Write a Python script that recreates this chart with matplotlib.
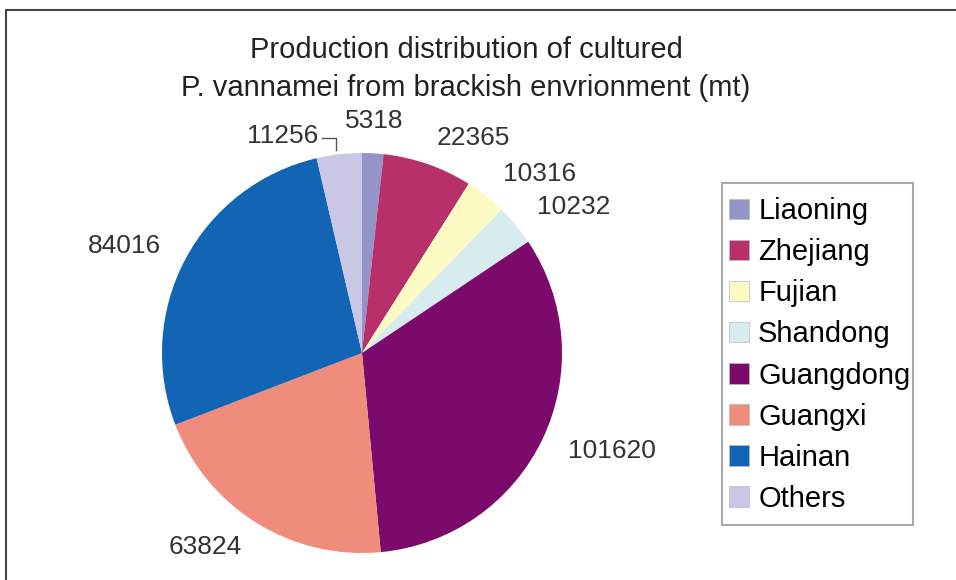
import numpy as np
import matplotlib.pyplot as plt
from matplotlib.lines import Line2D
from matplotlib.patches import Rectangle

plt.rcParams['font.family'] = ['Liberation Sans', 'DejaVu Sans']

provincias = ['Liaoning', 'Zhejiang', 'Fujian', 'Shandong', 'Guangdong', 'Guangxi', 'Hainan', 'Others']
produccion = [5318, 22365, 10316, 10232, 101620, 63824, 84016, 11256]
colores = ['#9494c8', '#b8306a', '#fdfbc4', '#d6ecee', '#7c0a6c', '#f08c7c', '#1264b4', '#c8c8e6']
titulo = ['Production distribution of cultured', 'P. vannamei from brackish envrionment (mt)']

W, H = 956, 580
fig = plt.figure(figsize=(W / 100, H / 100), dpi=100)
ax = fig.add_axes([0, 0, 1, 1])

cx, cy, r = 362, H - 353, 200
wedges, _ = ax.pie(produccion, colors=colores, startangle=90, counterclock=False,
                   center=(cx, cy), radius=r, frame=True)
ax.set_xlim(0, W)
ax.set_ylim(0, H)
ax.axis('off')

# etiquetas de valores fuera del pastel
total = sum(produccion)
acum = 0
for i, v in enumerate(produccion):
    medio = (acum + v / 2) / total * 2 * np.pi
    acum += v
    rr = r * 1.14
    x = cx + rr * np.sin(medio)
    y = cy + rr * np.cos(medio)
    if provincias[i] == 'Others':
        # etiqueta con linea guia
        x0 = cx + r * 1.02 * np.sin(medio)
        y0 = cy + r * 1.02 * np.cos(medio)
        ax.plot([x0 - 3, x0 - 3, x0 - 17], [y0, y0 + 12, y0 + 12], color='#555555', lw=1)
        ax.text(x0 - 20, y0 + 14, str(v), ha='right', va='center', fontsize=19, color='#333333')
        continue
    if i == 0:
        ax.text(x, y + 4, str(v), ha='center', va='center', fontsize=19, color='#333333')
        continue
    ha = 'left' if np.sin(medio) > 0 else 'right'
    ax.text(x, y, str(v), ha=ha, va='center', fontsize=19, color='#333333')

fig.text(466 / W, 1 - 50 / H, titulo[0], ha='center', va='center', fontsize=21, color='#222222')
fig.text(466 / W, 1 - 88 / H, titulo[1], ha='center', va='center', fontsize=21, color='#222222')

# leyenda sin marco, el recuadro se dibuja aparte
leg = ax.legend(wedges, provincias, loc='upper left', bbox_to_anchor=(729 / W, 1 - 197 / H),
                fontsize=21, frameon=False, handlelength=0.7, handleheight=0.7,
                handletextpad=0.3, labelspacing=0.45, borderpad=0, borderaxespad=0)
for h in leg.legend_handles:
    h.set_edgecolor('#bbbbbb')
    h.set_linewidth(0.5)
fig.add_artist(Rectangle((722 / W, 1 - 525 / H), (913 - 722) / W, (525 - 183) / H,
                         transform=fig.transFigure, fill=False, edgecolor='#aaaaaa', lw=1.5))

# marco del recuadro (solo arriba e izquierda)
fig.add_artist(Line2D([6 / W, 6 / W, 1], [0, 1 - 10 / H, 1 - 10 / H],
                      transform=fig.transFigure, color='#444444', lw=1.5))

plt.savefig('out.png', dpi=100)
